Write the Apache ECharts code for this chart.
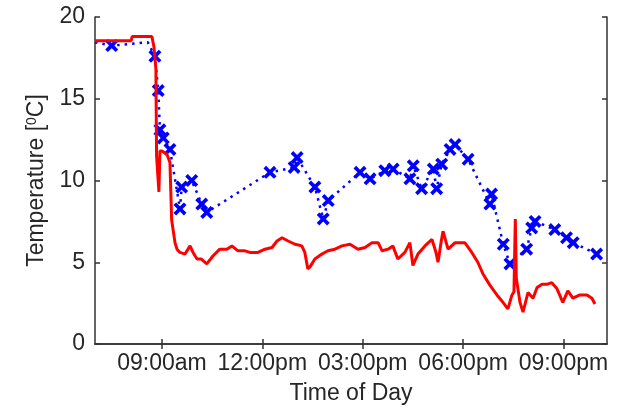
<!DOCTYPE html>
<html>
<head>
<meta charset="utf-8">
<script src="https://cdn.jsdelivr.net/npm/echarts@6/dist/echarts.min.js"></script>
<style>
  html, body { margin: 0; padding: 0; background: #fff; }
  #chart { width: 624px; height: 412px; }
</style>
</head>
<body>
<div id="chart"></div>
<script>
// hours of day (decimal) and temperatures
const redTime = [7.00, 8.08, 8.11, 8.70, 8.76, 8.82, 8.84, 8.88, 8.91, 8.94, 9.00, 9.15, 9.24, 9.29, 9.39, 9.45,
  9.54, 9.69, 9.84, 9.93, 10.05, 10.17, 10.34, 10.53, 10.73, 10.94, 11.09, 11.27, 11.48, 11.63, 11.87, 12.08,
  12.29, 12.44, 12.59, 12.77, 12.98, 13.18, 13.27, 13.36, 13.42, 13.57, 13.78, 13.96, 14.17, 14.38, 14.62, 14.86,
  15.07, 15.28, 15.46, 15.58, 15.76, 15.90, 16.05, 16.26, 16.41, 16.50, 16.65, 16.86, 17.07, 17.19, 17.25, 17.34,
  17.40, 17.55, 17.76, 18.05, 18.26, 18.44, 18.59, 18.80, 19.01, 19.19, 19.34, 19.46, 19.52, 19.56, 19.59, 19.70,
  19.79, 19.94, 20.09, 20.21, 20.36, 20.50, 20.65, 20.80, 20.98, 21.13, 21.28, 21.49, 21.70, 21.85, 21.94]
const redTemp = [18.55, 18.55, 18.8, 18.8, 18.2, 16.8, 11.5, 11.5, 9.3, 11.8, 11.8, 11.6, 11.1, 7.6, 6.2, 5.8,
  5.6, 5.5, 6.0, 5.6, 5.2, 5.2, 4.9, 5.4, 5.8, 5.8, 6.0, 5.7, 5.7, 5.6, 5.6, 5.8,
  5.9, 6.3, 6.5, 6.3, 6.1, 6.0, 5.6, 4.6, 4.7, 5.2, 5.5, 5.7, 5.8, 6.0, 6.1, 5.8,
  5.9, 6.2, 6.2, 5.7, 5.8, 6.0, 5.2, 5.6, 6.2, 4.8, 5.5, 6.0, 6.4, 5.6, 5.0, 6.2,
  6.9, 5.8, 6.2, 6.2, 5.6, 5.0, 4.3, 3.6, 3.0, 2.55, 2.15, 3.0, 3.2, 7.65, 4.0, 2.55,
  1.95, 3.15, 2.8, 3.45, 3.65, 3.65, 3.75, 3.4, 2.55, 3.25, 2.8, 3.0, 3.0, 2.8, 2.45]

const blueTime = [7.00, 7.50, 8.58, 8.79, 8.89, 8.94, 9.04, 9.24, 9.54, 9.59, 9.89, 10.19, 10.34, 12.23, 12.95,
  13.04, 13.57, 13.82, 13.97, 14.92, 15.22, 15.66, 15.91, 16.41, 16.51, 16.76, 17.11, 17.21, 17.36, 17.61, 17.76,
  18.15, 18.80, 18.85, 19.20, 19.40, 19.90, 20.05, 20.15, 20.74, 21.09, 21.29, 21.99]
const blueTemp = [18.45, 18.25, 18.45, 17.6, 15.5, 13.1, 12.6, 11.9, 8.26, 9.6, 10.0, 8.56, 8.05, 10.5, 10.8,
  11.4, 9.6, 7.65, 8.77, 10.5, 10.1, 10.6, 10.7, 10.1, 10.9, 9.5, 10.7, 9.5, 11.0, 11.9, 12.2,
  11.3, 8.56, 9.17, 6.1, 4.9, 5.8, 7.1, 7.5, 7.0, 6.5, 6.2, 5.5]
// points whose marker is not visible in the figure (hidden under the edge / red line)
const blueHidden = [0, 2]

const tickHours = [9, 12, 15, 18, 21]
const tickLabels = ['09:00am', '12:00pm', '03:00pm', '06:00pm', '09:00pm']

const font = 'Liberation Sans, Arial, Helvetica, sans-serif'
const ink = '#262626'
const xMark = 'path://M0,2L2,0L5,3L8,0L10,2L7,5L10,8L8,10L5,7L2,10L0,8L3,5Z'

const chart = echarts.init(document.getElementById('chart'), null, { renderer: 'canvas' })

const axisLine = { show: true, lineStyle: { color: '#333', width: 1.5 } }
const xRange = { min: 7, max: 22.3 }

chart.setOption({
  animation: false,
  grid: { left: 95, right: 17, top: 17, bottom: 68 },
  xAxis: [{
    type: 'value', ...xRange,
    name: 'Time of Day', nameLocation: 'middle', nameGap: 38,
    nameTextStyle: { fontFamily: font, fontSize: 23, color: ink },
    axisLine,
    splitLine: { show: false },
    axisTick: { inside: true, length: 5, customValues: tickHours, lineStyle: { color: '#333', width: 1.5 } },
    axisLabel: {
      customValues: tickHours, margin: 8,
      fontFamily: font, fontSize: 23, color: ink,
      formatter: v => tickLabels[tickHours.indexOf(v)] || ''
    }
  }, {
    type: 'value', ...xRange, position: 'top',
    axisLine,
    splitLine: { show: false },
    axisTick: { inside: true, length: 5, customValues: tickHours, lineStyle: { color: '#333', width: 1.5 } },
    axisLabel: { show: false }
  }],
  yAxis: [{
    type: 'value', min: 0, max: 20, interval: 5,
    name: 'Temperature [{sup|0}C]', nameLocation: 'middle', nameGap: 46, nameRotate: 90,
    nameTextStyle: {
      fontFamily: font, fontSize: 23, color: ink,
      rich: { sup: { fontFamily: font, fontSize: 14, color: ink, verticalAlign: 'top', lineHeight: 24 } }
    },
    axisLine,
    splitLine: { show: false },
    axisTick: { show: true, inside: true, length: 5, lineStyle: { color: '#333', width: 1.5 } },
    axisLabel: { margin: 10, fontFamily: font, fontSize: 23, color: ink }
  }, {
    type: 'value', min: 0, max: 20, interval: 5, position: 'right',
    axisLine,
    splitLine: { show: false },
    axisTick: { show: true, inside: true, length: 5, lineStyle: { color: '#333', width: 1.5 } },
    axisLabel: { show: false }
  }],
  series: [{
    name: 'blue',
    type: 'line',
    data: blueTime.map((t, i) => [t, blueTemp[i]]),
    symbol: (v, p) => blueHidden.includes(p.dataIndex) ? 'none' : xMark,
    symbolSize: 13,
    itemStyle: { color: '#0000ff' },
    lineStyle: { color: '#0000ff', width: 2.5, type: [2.5, 5] },
    z: 2
  }, {
    name: 'red',
    type: 'line',
    data: redTime.map((t, i) => [t, redTemp[i]]),
    symbol: 'none',
    lineStyle: { color: '#ff0000', width: 3 },
    z: 3
  }]
})
</script>
</body>
</html>
